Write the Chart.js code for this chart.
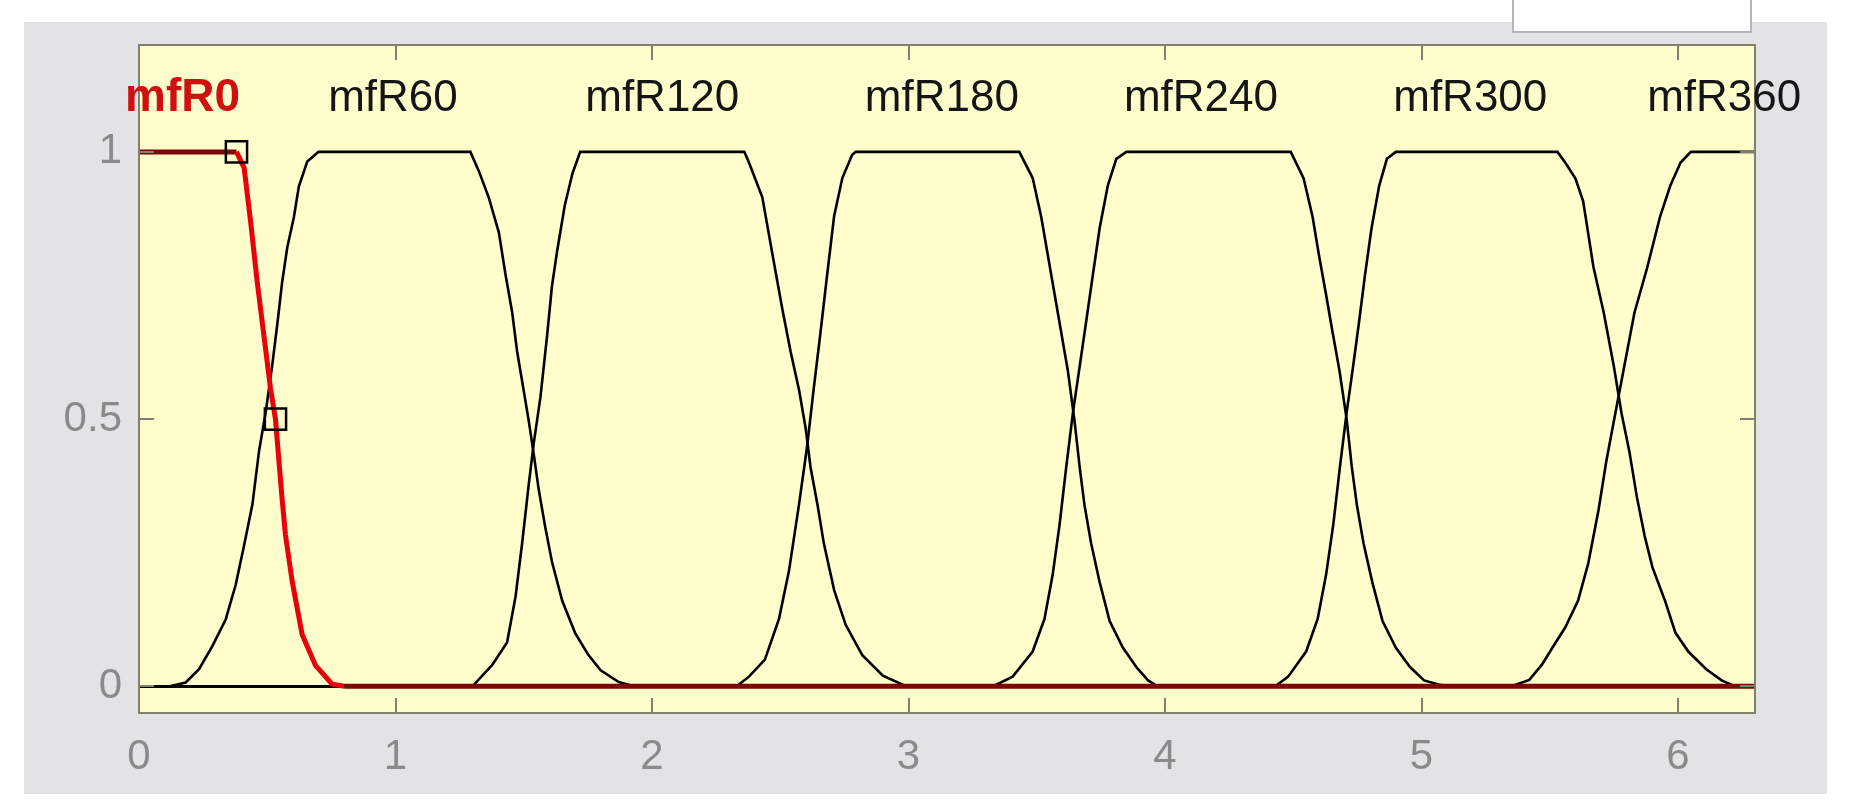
<!DOCTYPE html>
<html>
<head>
<meta charset="utf-8">
<title>mfR membership functions</title>
<script src="https://cdn.jsdelivr.net/npm/chart.js@4.4.1/dist/chart.umd.min.js"></script>
<style>
    html, body { margin: 0; padding: 0; background: #fff; }
    body { width: 1849px; height: 812px; position: relative; overflow: hidden; }
    .panel { position: absolute; left: 24px; top: 22px; width: 1803px; height: 772px; background: #e3e3e6; }
    .tab { position: absolute; left: 1512px; top: 0; width: 236px; height: 31px; background: #fff;
           border: 2px solid #b4b4b8; border-top: none; }
    #wrap { position: absolute; left: 0; top: 0; width: 1849px; height: 812px; }
</style>
</head>
<body>
<div class="panel"></div>
<div class="tab"></div>
<div id="wrap"><canvas id="mfPlot"></canvas></div>
<script>
// axis ticks
const xTicks = [0, 1, 2, 3, 4, 5, 6];
const yTicks = [0, 0.5, 1];
const yTickLabels = ['0', '0.5', '1'];

// membership function names + where their labels sit
const mfNames = ['mfR0', 'mfR60', 'mfR120', 'mfR180', 'mfR240', 'mfR300', 'mfR360'];
const labelX = [0.17, 0.99, 2.04, 3.13, 4.14, 5.19, 6.18];
const labelY = 1.1;

// curves
const mfR0X = [0, 0.38, 0.41, 0.435, 0.461, 0.487, 0.513, 0.532, 0.558, 0.571, 0.597, 0.636, 0.688, 0.753, 0.8, 6.3];
const mfR0Y = [1, 1, 0.97, 0.87, 0.756, 0.656, 0.556, 0.5, 0.35, 0.283, 0.197, 0.097, 0.039, 0.004, 0, 0];

const mfR60X = [0, 0.12, 0.182, 0.234, 0.286, 0.338, 0.377, 0.409, 0.442, 0.468, 0.494, 0.519, 0.539, 0.558, 0.578, 0.604, 0.623, 0.656, 0.70,
    1.292, 1.325, 1.364, 1.403, 1.429, 1.455, 1.474, 1.494, 1.519, 1.539, 1.558, 1.584, 1.61, 1.65, 1.70, 1.75, 1.80, 1.87, 1.93, 6.3];
const mfR60Y = [0, 0, 0.007, 0.032, 0.075, 0.125, 0.19, 0.262, 0.34, 0.44, 0.513, 0.599, 0.677, 0.756, 0.821, 0.878, 0.935, 0.982, 1,
    1, 0.964, 0.914, 0.849, 0.77, 0.699, 0.627, 0.57, 0.498, 0.434, 0.369, 0.297, 0.233, 0.16, 0.10, 0.06, 0.03, 0.008, 0, 0];

const mfR120X = [0, 1.30, 1.377, 1.435, 1.468, 1.494, 1.519, 1.539, 1.565, 1.591, 1.61, 1.63, 1.66, 1.69, 1.72,
    2.36, 2.378, 2.43, 2.47, 2.508, 2.54, 2.573, 2.599, 2.618, 2.645, 2.67, 2.71, 2.755, 2.82, 2.9, 2.99, 6.3];
const mfR120Y = [0, 0, 0.04, 0.082, 0.168, 0.269, 0.376, 0.455, 0.541, 0.656, 0.749, 0.814, 0.9, 0.96, 1,
    1, 0.98, 0.915, 0.807, 0.706, 0.627, 0.555, 0.483, 0.41, 0.34, 0.267, 0.18, 0.115, 0.058, 0.02, 0, 0];

const mfR180X = [0, 2.33, 2.378, 2.44, 2.495, 2.534, 2.573, 2.605, 2.63, 2.657, 2.683, 2.71, 2.742, 2.78, 2.794,
    3.432, 3.484, 3.517, 3.543, 3.569, 3.595, 3.621, 3.647, 3.667, 3.686, 3.712, 3.745, 3.784, 3.836, 3.888, 3.934, 3.97, 6.3];
const mfR180Y = [0, 0, 0.018, 0.05, 0.126, 0.216, 0.34, 0.45, 0.555, 0.663, 0.771, 0.88, 0.951, 0.994, 1,
    1, 0.951, 0.879, 0.807, 0.735, 0.663, 0.591, 0.497, 0.411, 0.339, 0.267, 0.195, 0.122, 0.072, 0.036, 0.011, 0, 0];

const mfR240X = [0, 3.33, 3.406, 3.484, 3.53, 3.562, 3.589, 3.615, 3.641, 3.667, 3.693, 3.719, 3.745, 3.777, 3.81, 3.849,
    4.49, 4.54, 4.575, 4.60, 4.627, 4.653, 4.68, 4.708, 4.728, 4.748, 4.774, 4.808, 4.848, 4.9, 4.955, 5.01, 5.07, 5.13, 6.3];
const mfR240Y = [0, 0, 0.018, 0.065, 0.126, 0.209, 0.303, 0.411, 0.512, 0.598, 0.684, 0.771, 0.857, 0.937, 0.987, 1,
    1, 0.951, 0.879, 0.807, 0.735, 0.663, 0.591, 0.5, 0.411, 0.339, 0.267, 0.195, 0.122, 0.072, 0.036, 0.011, 0.003, 0, 0];

const mfR300X = [0, 4.43, 4.48, 4.55, 4.595, 4.628, 4.656, 4.682, 4.708, 4.733, 4.757, 4.78, 4.805, 4.835, 4.865, 4.90,
    5.53, 5.56, 5.60, 5.63, 5.67, 5.71, 5.75, 5.78, 5.81, 5.84, 5.87, 5.90, 5.95, 5.99, 6.04, 6.11, 6.17, 6.22, 6.3];
const mfR300Y = [0, 0, 0.018, 0.065, 0.126, 0.209, 0.303, 0.411, 0.512, 0.598, 0.684, 0.771, 0.857, 0.937, 0.987, 1,
    1, 0.98, 0.95, 0.908, 0.785, 0.70, 0.598, 0.51, 0.44, 0.353, 0.281, 0.223, 0.159, 0.10, 0.065, 0.032, 0.011, 0, 0];

const mfR360X = [0, 5.35, 5.42, 5.47, 5.51, 5.56, 5.61, 5.65, 5.69, 5.72, 5.75, 5.79, 5.83, 5.88, 5.93, 5.97, 6.01, 6.05, 6.3];
const mfR360Y = [0, 0, 0.012, 0.041, 0.072, 0.11, 0.16, 0.23, 0.33, 0.42, 0.497, 0.598, 0.699, 0.784, 0.879, 0.937, 0.98, 1, 1];

// handles on the selected (red) curve
const handleX = [0.38, 0.532];
const handleY = [1, 0.5];

const FONT = '"Liberation Sans", Arial, sans-serif';
const AXIS_COLOR = '#80806e';

function toPoints(xs, ys) {
    return xs.map((x, i) => ({ x: x, y: ys[i] }));
}

function blackCurve(xs, ys) {
    return {
        data: toPoints(xs, ys),
        showLine: true,
        borderColor: '#000',
        borderWidth: 2.6,
        pointRadius: 0,
        order: 2
    };
}

// yellow plot area behind everything
const plotBackground = {
    id: 'plotBackground',
    beforeDraw(chart) {
        const { ctx, chartArea: a } = chart;
        ctx.save();
        ctx.fillStyle = '#fffdcb';
        ctx.fillRect(a.left, a.top, a.right - a.left, a.bottom - a.top);
        ctx.restore();
    }
};

// box, inward ticks and the mf labels
const plotFrame = {
    id: 'plotFrame',
    afterDraw(chart) {
        const { ctx, chartArea: a } = chart;
        const xs = chart.scales.x, ys = chart.scales.y;
        ctx.save();
        ctx.strokeStyle = AXIS_COLOR;
        ctx.lineWidth = 2;
        ctx.strokeRect(a.left, a.top, a.right - a.left, a.bottom - a.top);

        ctx.beginPath();
        xTicks.forEach(v => {
            const px = Math.round(xs.getPixelForValue(v));
            ctx.moveTo(px, a.top); ctx.lineTo(px, a.top + 15);
            ctx.moveTo(px, a.bottom); ctx.lineTo(px, a.bottom - 15);
        });
        yTicks.forEach(v => {
            const py = Math.round(ys.getPixelForValue(v));
            ctx.moveTo(a.left, py); ctx.lineTo(a.left + 15, py);
            ctx.moveTo(a.right, py); ctx.lineTo(a.right - 15, py);
        });
        ctx.stroke();

        ctx.textAlign = 'center';
        ctx.textBaseline = 'middle';
        mfNames.forEach((name, i) => {
            ctx.font = i === 0 ? 'bold 46px ' + FONT : '44px ' + FONT;
            ctx.fillStyle = i === 0 ? '#d01010' : '#151515';
            ctx.fillText(name, xs.getPixelForValue(labelX[i]), ys.getPixelForValue(labelY));
        });
        ctx.restore();
    }
};

const datasets = [
    {
        data: toPoints(handleX, handleY),
        showLine: false,
        pointStyle: 'rect',
        pointRadius: 15,
        pointBorderWidth: 2.5,
        pointBorderColor: '#000',
        pointBackgroundColor: 'rgba(0,0,0,0)',
        order: 0
    },
    {
        data: toPoints(mfR0X, mfR0Y),
        showLine: true,
        borderColor: '#e8000b',
        borderWidth: 5,
        pointRadius: 0,
        order: 1,
        segment: {
            // flat stretches come out darker red in the original
            borderColor: c => c.p0.parsed.y === c.p1.parsed.y ? '#7d0606' : undefined
        }
    },
    blackCurve(mfR60X, mfR60Y),
    blackCurve(mfR120X, mfR120Y),
    blackCurve(mfR180X, mfR180Y),
    blackCurve(mfR240X, mfR240Y),
    blackCurve(mfR300X, mfR300Y),
    blackCurve(mfR360X, mfR360Y)
];

new Chart(document.getElementById('mfPlot'), {
    type: 'scatter',
    data: { datasets: datasets },
    options: {
        responsive: true,
        maintainAspectRatio: false,
        animation: false,
        devicePixelRatio: 1,
        layout: { padding: { top: 45, right: 94, bottom: 0, left: 0 } },
        plugins: { legend: { display: false }, tooltip: { enabled: false } },
        scales: {
            x: {
                type: 'linear',
                min: 0,
                max: 6.3,
                afterBuildTicks: s => { s.ticks = xTicks.map(v => ({ value: v })); },
                afterFit: s => { s.height = 99; },
                grid: { display: false, drawTicks: false },
                border: { display: false },
                ticks: {
                    autoSkip: false,
                    maxRotation: 0,
                    padding: 19,
                    color: '#8a8a8a',
                    font: { family: FONT, size: 42 }
                }
            },
            y: {
                type: 'linear',
                min: -0.05,
                max: 1.2,
                afterBuildTicks: s => { s.ticks = yTicks.map(v => ({ value: v })); },
                afterFit: s => { s.width = 139; },
                grid: { display: false, drawTicks: false },
                border: { display: false },
                ticks: {
                    padding: 17,
                    color: '#8a8a8a',
                    font: { family: FONT, size: 42 },
                    callback: (value, i) => yTickLabels[i]
                }
            }
        }
    },
    plugins: [plotBackground, plotFrame]
});
</script>
</body>
</html>
